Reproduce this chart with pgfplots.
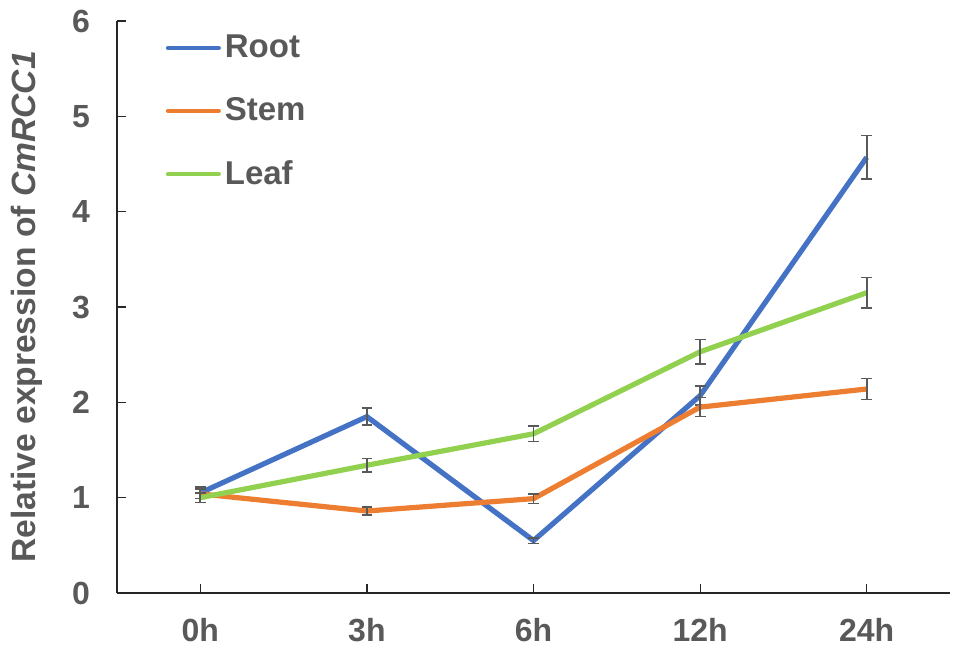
\documentclass[border=0pt]{standalone}
\usepackage{fontspec}
\setmainfont{Liberation Sans}
\usepackage{pgfplots}
\pgfplotsset{compat=1.18}
\definecolor{cRoot}{HTML}{4472C4}
\definecolor{cStem}{HTML}{ED7D31}
\definecolor{cLeaf}{HTML}{92D050}
\definecolor{txt}{HTML}{595959}
\definecolor{axl}{HTML}{262626}
\begin{document}
\begin{tikzpicture}
\begin{axis}[
  at={(0,0)}, anchor=south west,
  scale only axis,
  width=416.5pt, height=286pt,
  xmin=-0.5, xmax=4.5, ymin=0, ymax=6,
  axis x line*=bottom, axis y line*=left,
  axis line style={-, draw=axl, line width=0.6pt},
  xtick={0,1,2,3,4},
  xticklabels={0h,3h,6h,12h,24h},
  ytick={0,1,2,3,4,5,6},
  tick align=inside,
  major tick length=4.5pt,
  tick style={draw=axl, line width=0.6pt},
  /pgf/number format/assume math mode=true,
  tick label style={text=txt, font=\fontsize{16}{19}\selectfont\bfseries},
  yticklabel style={xshift=-10pt},
  xticklabel style={yshift=-9pt},
  ylabel={Relative expression of \textit{CmRCC1}},
  ylabel style={text=txt, font=\fontsize{16.8}{20}\selectfont\bfseries, at={(axis description cs:-0.108,0.5)}, anchor=center},
  legend style={draw=none, fill=none, text=txt, font=\fontsize{16.5}{19}\selectfont\bfseries,
    at={(axis description cs:0.051,0.99)}, anchor=north west, row sep=14.5pt,
    /tikz/every even column/.append style={column sep=0pt}},
  legend cell align=left,
  legend image code/.code={\draw[#1, line width=2pt, line cap=round] (0pt,0pt) -- (25.5pt,0pt);},
  every axis plot/.append style={line width=2.6pt, no markers,
    /pgfplots/error bars/y dir=both, /pgfplots/error bars/y explicit,
    /pgfplots/error bars/error bar style={draw=txt, line width=0.85pt},
    /pgfplots/error bars/error mark options={rotate=90, mark size=2.7pt, draw=txt, line width=0.85pt}},
]
\addplot[cRoot, line width=2.6pt] coordinates {
  (0,1.05) +- (0,0.06)
  (1,1.85) +- (0,0.09)
  (2,0.55) +- (0,0.03)
  (3,2.07) +- (0,0.10)
  (4,4.57) +- (0,0.23)
};
\addlegendentry{Root}
\addplot[cStem, line width=2.6pt] coordinates {
  (0,1.04) +- (0,0.05)
  (1,0.86) +- (0,0.04)
  (2,0.99) +- (0,0.05)
  (3,1.95) +- (0,0.10)
  (4,2.14) +- (0,0.11)
};
\addlegendentry{Stem}
\addplot[cLeaf, line width=2.6pt] coordinates {
  (0,1.00) +- (0,0.05)
  (1,1.34) +- (0,0.07)
  (2,1.67) +- (0,0.08)
  (3,2.53) +- (0,0.13)
  (4,3.15) +- (0,0.16)
};
\addlegendentry{Leaf}
\end{axis}
\path[use as bounding box] (-58.5pt,-31pt) rectangle (420pt,296.5pt);
\end{tikzpicture}
\end{document}
